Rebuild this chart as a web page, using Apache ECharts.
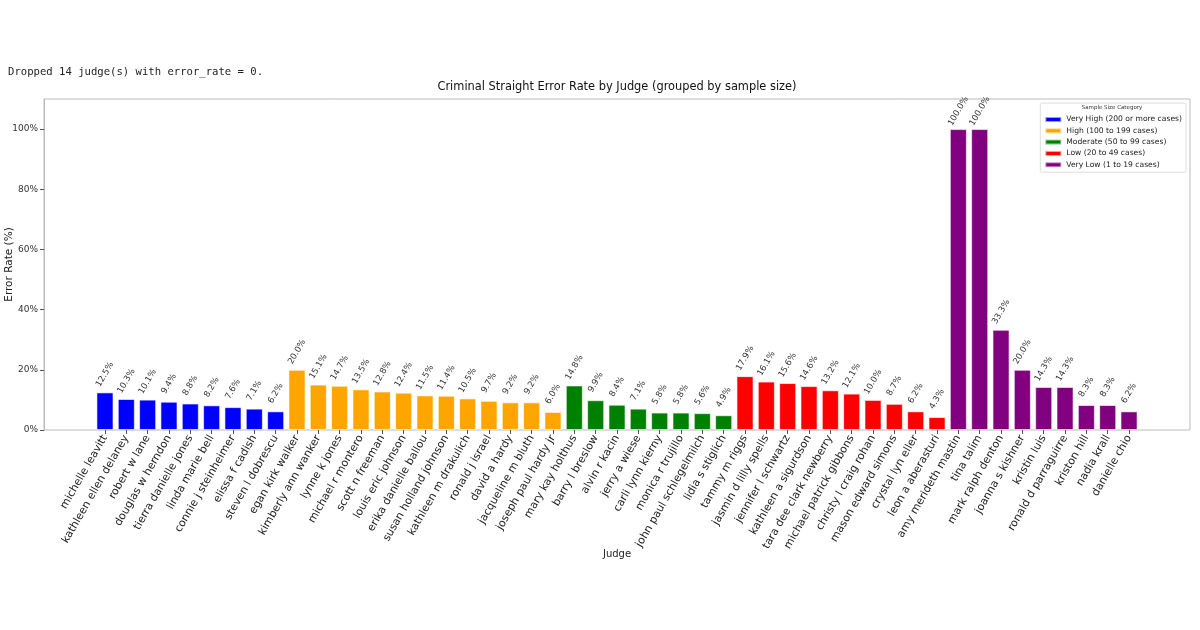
<!DOCTYPE html>
<html>
<head>
<meta charset="utf-8">
<script src="https://cdn.jsdelivr.net/npm/echarts@6/dist/echarts.min.js"></script>
<style>
html,body{margin:0;padding:0;background:#fff;}
#chart{width:1200px;height:630px;}
</style>
</head>
<body>
<div id="chart"></div>
<script>
// ---- data ----
const judges = [
  'michelle leavitt','kathleen ellen delaney','robert w lane','douglas w herndon','tierra danielle jones',
  'linda marie bell','connie j steinheimer','elissa f cadish','steven l dobrescu',
  'egan kirk walker','kimberly ann wanker','lynne k jones','michael r montero','scott n freeman',
  'louis eric johnson','erika danielle ballou','susan holland johnson','kathleen m drakulich',
  'ronald j israel','david a hardy','jacqueline m bluth','joseph paul hardy jr',
  'mary kay holthus','barry l breslow','alvin r kacin','jerry a wiese','carli lynn kierny',
  'monica r trujillo','john paul schlegelmilch','lidia s stiglich',
  'tammy m riggs','jasmin d lilly spells','jennifer l schwartz','kathleen a sigurdson',
  'tara dee clark newberry','michael patrick gibbons','christy l craig rohan','mason edward simons',
  'crystal lyn eller','leon a aberasturi',
  'amy merideth mastin','tina talim','mark ralph denton','joanna s kishner','kristin luis',
  'ronald d parraguirre','kriston hill','nadia krall','danielle chio'
];
const errorRates = [
  12.5,10.3,10.1,9.4,8.8,8.2,7.6,7.1,6.2,
  20.0,15.1,14.7,13.5,12.8,12.4,11.5,11.4,10.5,9.7,9.2,9.2,6.0,
  14.8,9.9,8.4,7.1,5.8,5.8,5.6,4.9,
  17.9,16.1,15.6,14.6,13.2,12.1,10.0,8.7,6.2,4.3,
  100.0,100.0,33.3,20.0,14.3,14.3,8.3,8.3,6.2
];
const judgeGroup = [
  0,0,0,0,0,0,0,0,0,
  1,1,1,1,1,1,1,1,1,1,1,1,1,
  2,2,2,2,2,2,2,2,
  3,3,3,3,3,3,3,3,3,3,
  4,4,4,4,4,4,4,4,4
];
const groupNames = [
  'Very High (200 or more cases)',
  'High (100 to 199 cases)',
  'Moderate (50 to 99 cases)',
  'Low (20 to 49 cases)',
  'Very Low (1 to 19 cases)'
];
const groupColors = ['#0000ff','#ffa500','#008000','#ff0000','#800080'];
const yTicks = [0,20,40,60,80,100];
const droppedNote = 'Dropped 14 judge(s) with error_rate = 0.';

// ---- chart ----
const chart = echarts.init(document.getElementById('chart'), null, {renderer:'canvas'});
const FONT = 'DejaVu Sans';

const series = groupNames.map((name, g) => ({
  name: name,
  type: 'bar',
  xAxisIndex: 1,
  yAxisIndex: 1,
  barWidth: '80%',
  barGap: '-100%',
  itemStyle: { color: groupColors[g], borderColor: 'rgba(255,255,255,0.6)', borderWidth: 1 },
  label: {
    show: true,
    position: 'top',
    rotate: 60,
    align: 'center',
    verticalAlign: 'middle',
    distance: 18,
    fontFamily: FONT,
    fontSize: 8.5,
    color: '#333',
    formatter: p => p.value == null ? '' : Number(p.value).toFixed(1) + '%'
  },
  data: errorRates.map((v, i) => judgeGroup[i] === g ? v : null)
}));

chart.setOption({
  animation: false,
  backgroundColor: '#fff',
  title: [
    { text: droppedNote, left: 8, top: 67, padding: 0,
      textStyle: { fontFamily: 'DejaVu Sans Mono', fontSize: 10.6, fontWeight: 'normal', color: '#222' } },
    { text: 'Criminal Straight Error Rate by Judge (grouped by sample size)', left: 617, top: 82, textAlign: 'center', padding: 0,
      textStyle: { fontFamily: FONT, fontSize: 11.4, fontWeight: 'normal', color: '#111' } },
    { text: 'Sample Size Category', left: 1112, top: 105, textAlign: 'center', padding: 0,
      textStyle: { fontFamily: FONT, fontSize: 5.5, fontWeight: 'normal', color: '#333' } }
  ],
  legend: {
    orient: 'vertical',
    right: 14,
    top: 103,
    padding: [12, 4, 3, 4],
    backgroundColor: '#fff',
    borderColor: '#ddd',
    borderWidth: 1,
    borderRadius: 2,
    icon: 'rect',
    itemWidth: 16,
    itemHeight: 5,
    itemGap: 2.3,
    textStyle: { fontFamily: FONT, fontSize: 7.6, color: '#222', lineHeight: 9 },
    data: groupNames
  },
  grid: [
    { left: 44, right: 10, top: 99, bottom: 200, show: true, borderColor: '#bbb', borderWidth: 1,
      containLabel: false, outerBoundsMode: 'none' },
    { left: 94.3, right: 60.3, top: 99, bottom: 200, containLabel: false, outerBoundsMode: 'none' }
  ],
  xAxis: [
    { type: 'value', gridIndex: 0, min: 0, max: 1, show: false },
    { type: 'category', gridIndex: 1, data: judges, boundaryGap: true,
      name: 'Judge', nameLocation: 'middle', nameGap: 119, nameMoveOverlap: false,
      nameTextStyle: { fontFamily: FONT, fontSize: 10, color: '#222' },
      axisLine: { show: false },
      axisTick: { show: true, length: 4, alignWithLabel: true, lineStyle: { color: '#555' } },
      axisLabel: { rotate: 60, interval: 0, margin: 6, fontFamily: FONT, fontSize: 10.8, color: '#222' } }
  ],
  yAxis: [
    { type: 'value', gridIndex: 0, min: 0, max: 110,
      name: 'Error Rate (%)', nameLocation: 'middle', nameGap: 29, nameRotate: 90, nameMoveOverlap: false,
      nameTextStyle: { fontFamily: FONT, fontSize: 10.5, color: '#222' },
      splitLine: { show: false },
      axisLine: { show: true, lineStyle: { color: '#bbb' } },
      axisTick: { show: true, length: 4, customValues: yTicks, lineStyle: { color: '#555' } },
      axisLabel: { customValues: yTicks, margin: 6, fontFamily: FONT, fontSize: 9, color: '#333',
                   formatter: v => v + '%' } },
    { type: 'value', gridIndex: 1, min: 0, max: 110, show: false }
  ],
  series: series
});
</script>
</body>
</html>
